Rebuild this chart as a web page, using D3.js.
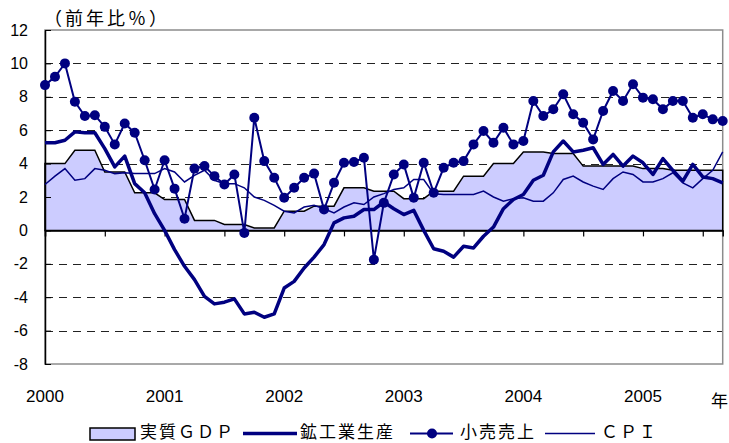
<!DOCTYPE html>
<html>
<head>
<meta charset="utf-8">
<script src="https://cdn.jsdelivr.net/npm/d3@7"></script>
<style>
  body { margin: 0; background: #fff; }
  svg { display: block; }
  text { font-family: "Liberation Sans", Arial, sans-serif; fill: #000; }
  .jp { font-family: "Noto Sans CJK JP", sans-serif; }
</style>
</head>
<body>
<svg id="chart" width="729" height="443"></svg>
<script>
// monthly, Jan 2000 - Sep 2005 (69 months)
const gdp = [
  4.0, 4.0, 4.0, 4.8, 4.8, 4.8, 3.5, 3.5, 3.5, 2.25, 2.25, 2.25,
  1.85, 1.85, 1.85, 0.6, 0.6, 0.6, 0.35, 0.35, 0.35, 0.15, 0.15, 0.15,
  1.15, 1.15, 1.15, 1.45, 1.45, 1.45, 2.55, 2.55, 2.55, 2.35, 2.35, 2.35,
  1.9, 1.9, 1.9, 2.35, 2.35, 2.35, 3.25, 3.25, 3.25, 4.0, 4.0, 4.0,
  4.7, 4.7, 4.7, 4.6, 4.6, 4.6, 3.85, 3.85, 3.85, 3.85, 3.85, 3.85,
  3.7, 3.7, 3.7, 3.6, 3.6, 3.6, 3.6, 3.6, 3.6
];
const ip = [
  5.25, 5.25, 5.4, 5.9, 5.85, 5.85, 4.9, 3.8, 4.45, 2.8, 2.25, 1.0,
  0.0, -1.15, -2.15, -2.95, -3.95, -4.4, -4.3, -4.1, -5.0, -4.9, -5.2, -5.0,
  -3.45, -3.05, -2.25, -1.6, -0.85, 0.45, 0.75, 0.85, 1.25, 1.25, 1.7, 1.3,
  0.95, 1.2, 0.0, -1.1, -1.25, -1.6, -0.95, -1.05, -0.35, 0.2, 1.3, 1.85,
  2.15, 3.0, 3.3, 4.7, 5.35, 4.7, 4.8, 4.95, 3.95, 4.55, 3.85, 4.45,
  4.05, 3.35, 4.3, 3.6, 2.95, 3.95, 3.2, 3.1, 2.85
];
const retail = [
  8.7, 9.2, 10.0, 7.7, 6.85, 6.9, 6.2, 5.15, 6.4, 5.85, 4.2, 2.45,
  4.2, 2.5, 0.7, 3.7, 3.85, 3.25, 2.75, 3.35, -0.15, 6.75, 4.15, 3.15,
  1.95, 2.55, 3.15, 3.4, 1.25, 2.85, 4.05, 4.1, 4.35, -1.75, 1.65, 3.35,
  3.95, 1.95, 4.05, 2.25, 3.75, 4.05, 4.15, 5.15, 5.95, 5.25, 6.15, 5.15,
  5.35, 7.75, 6.85, 7.25, 8.15, 6.95, 6.45, 5.45, 7.15, 8.35, 7.75, 8.75,
  7.95, 7.85, 7.25, 7.75, 7.75, 6.75, 6.95, 6.65, 6.55
];
const cpi = [
  2.75, 3.25, 3.7, 3.0, 3.1, 3.7, 3.6, 3.4, 3.45, 3.4, 3.4, 3.4,
  3.7, 3.5, 2.9, 3.3, 3.6, 3.0, 2.8, 2.8, 2.55, 2.0, 1.8, 1.5,
  1.15, 1.05, 1.4, 1.5, 1.3, 1.05, 1.4, 1.65, 1.55, 2.0, 2.2, 2.45,
  2.55, 3.05, 3.05, 2.2, 2.15, 2.15, 2.15, 2.15, 2.35, 2.0, 1.75, 1.9,
  1.95, 1.75, 1.75, 2.25, 3.05, 3.25, 2.9, 2.65, 2.45, 3.1, 3.5, 3.35,
  2.9, 2.9, 3.1, 3.45, 2.85, 2.55, 3.1, 3.6, 4.7
];
const yearLabels = ['2000', '2001', '2002', '2003', '2004', '2005'];
const yTicks = [-8, -6, -4, -2, 0, 2, 4, 6, 8, 10, 12];
const seriesNames = ['実質ＧＤＰ', '鉱工業生産', '小売売上', 'ＣＰＩ'];

const navy = '#000080';
const svg = d3.select('#chart');
const plotL = 45, plotR = 722.7, plotT = 30, plotB = 364;

const x = d3.scaleLinear().domain([0, gdp.length - 1]).range([plotL, plotR]);
const y = d3.scaleLinear().domain([-8, 12]).range([plotB, plotT]);

// dashed grid
svg.append('g')
  .selectAll('line')
  .data(yTicks.filter(d => d !== 0 && d !== 12 && d !== -8))
  .join('line')
  .attr('x1', plotL).attr('x2', plotR)
  .attr('y1', d => Math.round(y(d)) + 0.5).attr('y2', d => Math.round(y(d)) + 0.5)
  .attr('stroke', '#222')
  .attr('stroke-dasharray', '8,6');

// frame
svg.append('rect')
  .attr('x', plotL).attr('y', plotT)
  .attr('width', plotR - plotL).attr('height', plotB - plotT)
  .attr('fill', 'none').attr('stroke', '#8c8c8c').attr('stroke-width', 1.5);

// GDP area
const area = d3.area().x((d, i) => x(i)).y0(y(0)).y1(d => y(d));
svg.append('path')
  .datum(gdp)
  .attr('d', area)
  .attr('fill', '#ccccff')
  .attr('stroke', '#000')
  .attr('stroke-width', 1.5);

// zero axis with half-year ticks
const xAxis = d3.axisBottom(x)
  .tickValues(d3.range(0, gdp.length, 6))
  .tickSize(6)
  .tickFormat('');
svg.append('g')
  .attr('transform', `translate(0,${y(0)})`)
  .call(xAxis)
  .call(g => g.selectAll('line').attr('stroke', '#000').attr('stroke-width', 1.2))
  .call(g => g.select('.domain').attr('stroke', '#000').attr('stroke-width', 1.5));

// y axis, inside ticks
const yAxis = d3.axisLeft(y)
  .tickValues(yTicks)
  .tickSizeInner(-6)
  .tickSizeOuter(0)
  .tickPadding(17)
  .tickFormat(d => String(d));
svg.append('g')
  .attr('transform', `translate(${plotL},0)`)
  .call(yAxis)
  .call(g => g.select('.domain').attr('stroke', '#000').attr('stroke-width', 1.5))
  .call(g => g.selectAll('line').attr('stroke', '#000'))
  .call(g => g.selectAll('text').attr('font-size', 16).attr('fill', '#000')
    .attr('font-family', '"Liberation Sans", Arial, sans-serif'));

// year labels
svg.append('g')
  .selectAll('text')
  .data(yearLabels)
  .join('text')
  .attr('x', (d, i) => x(i * 12))
  .attr('y', 402)
  .attr('text-anchor', 'middle')
  .attr('font-size', 17)
  .text(d => d);

svg.append('text').attr('class', 'jp')
  .attr('x', 711).attr('y', 407).attr('font-size', 17).text('年');

svg.append('text').attr('class', 'jp')
  .attr('x', 44).attr('y', 25).attr('font-size', 18)
  .attr('letter-spacing', 3)
  .text('（前年比％）');

const line = d3.line().x((d, i) => x(i)).y(d => y(d));

svg.append('path').datum(cpi).attr('d', line)
  .attr('fill', 'none').attr('stroke', navy).attr('stroke-width', 1.5);

svg.append('path').datum(ip).attr('d', line)
  .attr('fill', 'none').attr('stroke', navy).attr('stroke-width', 3.5)
  .attr('stroke-linejoin', 'round');

svg.append('path').datum(retail).attr('d', line)
  .attr('fill', 'none').attr('stroke', navy).attr('stroke-width', 2);

svg.append('g')
  .selectAll('circle')
  .data(retail)
  .join('circle')
  .attr('cx', (d, i) => x(i))
  .attr('cy', d => y(d))
  .attr('r', 5)
  .attr('fill', navy);

// legend
const lg = svg.append('g');
const ly = 433.5;
lg.append('rect').attr('x', 90).attr('y', 428).attr('width', 45).attr('height', 12)
  .attr('fill', '#ccccff').attr('stroke', '#000').attr('stroke-width', 1.5);
lg.append('line').attr('x1', 243).attr('x2', 297).attr('y1', ly).attr('y2', ly)
  .attr('stroke', navy).attr('stroke-width', 3.5);
lg.append('line').attr('x1', 410).attr('x2', 453).attr('y1', ly).attr('y2', ly)
  .attr('stroke', navy).attr('stroke-width', 2);
lg.append('circle').attr('cx', 432).attr('cy', ly).attr('r', 5).attr('fill', navy);
lg.append('line').attr('x1', 545).attr('x2', 595).attr('y1', ly).attr('y2', ly)
  .attr('stroke', navy).attr('stroke-width', 1.5);

const legendX = [140, 300, 460, 601];
lg.selectAll('text.lab')
  .data(seriesNames)
  .join('text')
  .attr('class', 'jp lab')
  .attr('x', (d, i) => legendX[i])
  .attr('y', 438)
  .attr('font-size', 17)
  .attr('letter-spacing', 2)
  .text(d => d);
</script>
</body>
</html>
